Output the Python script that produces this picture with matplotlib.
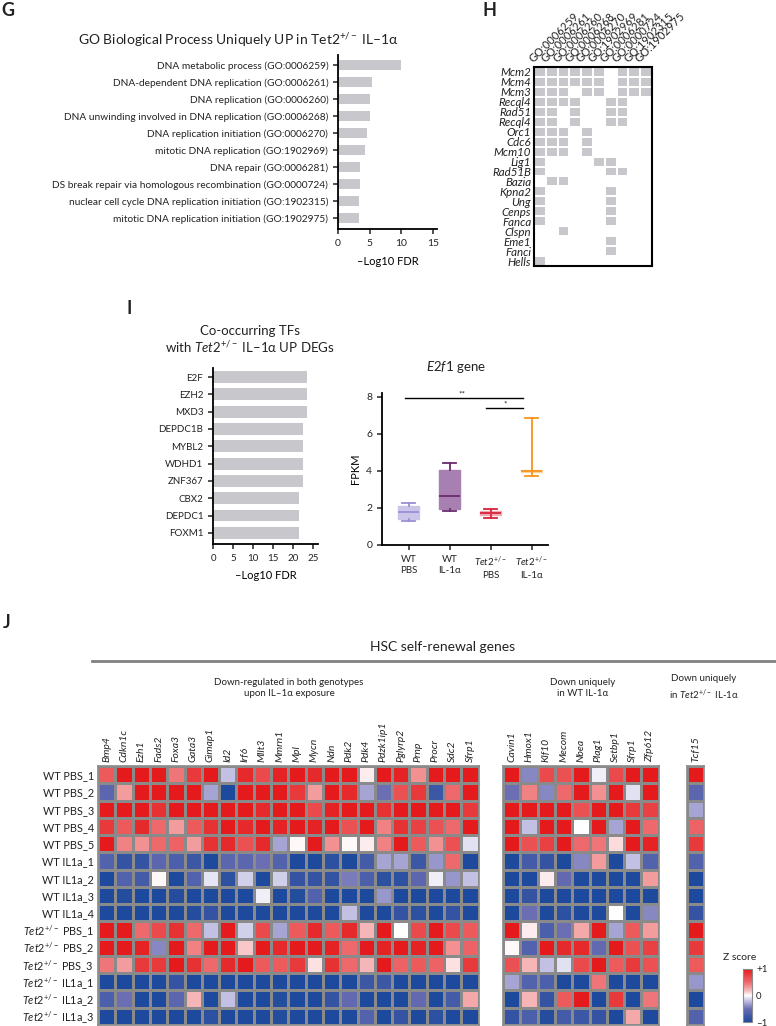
import numpy as np
import matplotlib.pyplot as plt
from matplotlib.colors import LinearSegmentedColormap, ListedColormap

plt.rcParams['font.family'] = ['Lato', 'DejaVu Sans']
plt.rcParams['mathtext.fontset'] = 'custom'
plt.rcParams['mathtext.rm'] = 'Lato'
plt.rcParams['mathtext.it'] = 'Lato:italic'
plt.rcParams['mathtext.bf'] = 'Lato:bold'
plt.rcParams['text.color'] = '#222222'
plt.rcParams['xtick.color'] = '#222222'
plt.rcParams['ytick.color'] = '#222222'

W, H = 776, 1026
BAR_GREY = '#c8c7cc'

# ---- panel G data
go_terms = ['DNA metabolic process (GO:0006259)',
            'DNA-dependent DNA replication (GO:0006261)',
            'DNA replication (GO:0006260)',
            'DNA unwinding involved in DNA replication (GO:0006268)',
            'DNA replication initiation (GO:0006270)',
            'mitotic DNA replication (GO:1902969)',
            'DNA repair (GO:0006281)',
            'DS break repair via homologous recombination (GO:0000724)',
            'nuclear cell cycle DNA replication initiation (GO:1902315)',
            'mitotic DNA replication initiation (GO:1902975)']
go_fdr = [10.0, 5.4, 5.1, 5.0, 4.6, 4.3, 3.5, 3.5, 3.3, 3.3]

# ---- panel H data
go_ids = ['GO:0006259', 'GO:0006261', 'GO:0006260', 'GO:0006268', 'GO:0006270',
          'GO:1902969', 'GO:0006281', 'GO:0000724', 'GO:1902315', 'GO:1902975']
h_genes = ['Mcm2', 'Mcm4', 'Mcm3', 'Recql4', 'Rad51', 'Recql4', 'Orc1', 'Cdc6',
           'Mcm10', 'Lig1', 'Rad51B', 'Bazia', 'Kpna2', 'Ung', 'Cenps', 'Fanca',
           'Clspn', 'Eme1', 'Fanci', 'Hells']
h_member = [[1, 1, 1, 1, 1, 1, 0, 1, 1, 1],
            [1, 1, 1, 1, 1, 1, 0, 1, 1, 1],
            [1, 1, 1, 0, 1, 1, 0, 1, 1, 1],
            [1, 1, 1, 1, 0, 0, 1, 1, 0, 0],
            [1, 1, 0, 1, 0, 0, 1, 1, 0, 0],
            [1, 1, 0, 1, 0, 0, 1, 1, 0, 0],
            [1, 1, 1, 0, 1, 0, 0, 0, 0, 0],
            [1, 1, 1, 0, 1, 0, 0, 0, 0, 0],
            [1, 1, 1, 0, 1, 0, 0, 0, 0, 0],
            [1, 0, 0, 0, 0, 1, 1, 0, 0, 0],
            [1, 0, 0, 0, 0, 0, 1, 1, 0, 0],
            [0, 1, 1, 0, 0, 0, 0, 0, 0, 0],
            [1, 0, 0, 0, 0, 0, 1, 0, 0, 0],
            [1, 0, 0, 0, 0, 0, 1, 0, 0, 0],
            [1, 0, 0, 0, 0, 0, 1, 0, 0, 0],
            [1, 0, 0, 0, 0, 0, 1, 0, 0, 0],
            [0, 0, 1, 0, 0, 0, 0, 0, 0, 0],
            [0, 0, 0, 0, 0, 0, 1, 0, 0, 0],
            [0, 0, 0, 0, 0, 0, 1, 0, 0, 0],
            [1, 0, 0, 0, 0, 0, 0, 0, 0, 0]]

# ---- panel I data
tf_names = ['E2F', 'EZH2', 'MXD3', 'DEPDC1B', 'MYBL2', 'WDHD1', 'ZNF367',
            'CBX2', 'DEPDC1', 'FOXM1']
tf_fdr = [23.6, 23.6, 23.6, 22.6, 22.6, 22.6, 22.6, 21.6, 21.6, 21.6]

e2f1_groups = ['WT\nPBS', 'WT\nIL-1α', '$\\mathit{Tet2}^{+/-}$\nPBS',
               '$\\mathit{Tet2}^{+/-}$\nIL-1α']
e2f1_whislo = [1.30, 1.81, 1.43, 3.73]
e2f1_q1 = [1.41, 1.96, 1.63, 3.95]
e2f1_med = [1.76, 2.65, 1.73, 3.98]
e2f1_q3 = [2.10, 4.05, 1.83, 4.04]
e2f1_whishi = [2.24, 4.43, 1.96, 6.86]
e2f1_fill = ['#cbc5ea', '#a77fb0', '#f3aab2', '#fcd39c']
e2f1_edge = ['#9a8fd6', '#6a2c70', '#d6243c', '#f7941d']

# ---- panel J data
hm_rows = ['WT PBS_1', 'WT PBS_2', 'WT PBS_3', 'WT PBS_4', 'WT PBS_5',
           'WT IL1a_1', 'WT IL1a_2', 'WT IL1a_3', 'WT IL1a_4',
           '$\\mathit{Tet2}^{+/-}$ PBS_1', '$\\mathit{Tet2}^{+/-}$ PBS_2',
           '$\\mathit{Tet2}^{+/-}$ PBS_3', '$\\mathit{Tet2}^{+/-}$ IL1a_1',
           '$\\mathit{Tet2}^{+/-}$ IL1a_2', '$\\mathit{Tet2}^{+/-}$ IL1a_3']
both_genes = ['Bmp4', 'Cdkn1c', 'Ezh1', 'Fads2', 'Foxa3', 'Gata3', 'Gimap1', 'Id2',
              'Irf6', 'Mllt3', 'Mmrn1', 'Mpl', 'Mycn', 'Ndn', 'Pdk2', 'Pdk4',
              'Pdzk1ip1', 'Pglyrp2', 'Prnp', 'Procr', 'Sdc2', 'Sfrp1']
both_z = [
    [0.6, 1, 1, 1, 0.45, 0.8, 1, -0.2, 0.9, 0.7, 0.95, 1, 0.9, 1, 1, 0.05, 1, 0.95, 0.35, 1, 1, 1],
    [-0.6, 0.3, 1, 1, 1, 1, -0.3, -1, 1, 1, 1, 0.8, 0.3, 1, 0.9, -0.3, -0.5, 0.65, 0.8, -0.8, 0.5, 1],
    [1, 1, 1, 0.85, 1, 1, 1, 1, 1, 0.9, 1, 1, 0.7, 0.95, 1, 1, 0.85, 1, 1, 1, 1, 0.8],
    [0.8, 0.6, 0.9, 0.5, 0.3, 0.6, 0.85, 1, 0.9, 1, 0.95, 1, 0.95, 1, 0.65, 1, 0.4, 0.85, 0.75, 0.65, 0.5, 1],
    [1, 0.4, 0.35, 0.5, 0.55, 0.3, 0.85, 0.9, 0.65, 0.9, -0.3, 0.02, 1, 0.35, 0.02, 0.05, 0.4, 1, 0.6, 0.35, 0.65, -0.1],
    [-0.65, -0.85, -0.85, -0.6, -0.7, -0.8, -1, -0.6, -0.6, -0.5, -0.65, -1, -1, -0.9, -1, -0.75, -0.3, -0.3, -0.8, -0.35, 0.5, -1],
    [-1, -0.65, -0.75, 0.02, -1, -0.65, -0.08, -0.9, -0.15, -1, -0.15, -0.85, -0.85, -0.85, -0.45, -0.7, -0.9, -0.9, -0.6, -0.05, -0.35, -0.2],
    [-1, -0.95, -1, -1, -0.95, -1, -1, -1, -1, -0.05, -1, -0.95, -0.65, -1, -1, -1, -0.35, -1, -1, -1, -1, -1],
    [-1, -1, -1, -1, -1, -0.95, -0.85, -1, -1, -1, -1, -1, -1, -1, -0.2, -1, -1, -0.85, -0.9, -1, -0.85, -1],
    [1, 1, 0.5, 0.7, 0.85, 0.5, -0.2, 1, -0.15, 0.7, -0.3, 0.6, 0.9, 0.6, 0.9, 0.2, 1, 0.0, 0.7, 1, 0.7, 0.6],
    [1, 1, 0.95, -0.4, 1, 0.4, 1, 1, 0.15, 1, 0.9, 1, 1, 0.95, 0.5, 1, 0.95, 1, 0.95, 1, 0.35, 0.55],
    [0.45, 0.3, 0.8, 0.8, 1, 0.85, 0.5, 0.9, 1, 0.6, 0.6, 0.8, 0.08, 0.85, 0.5, 0.2, 1, 0.55, 0.6, 0.55, 0.08, 0.8],
    [-1, -1, -1, -1, -0.85, -1, -1, -1, -1, -1, -1, -1, -1, -1, -1, -0.8, -0.8, -1, -1, -1, -1, -1],
    [-0.7, -0.5, -1, -1, -0.6, 0.2, -1, -0.2, -1, -1, -0.95, -1, -1, -0.85, -0.55, -1, -1, -1, -0.55, -1, -0.75, 0.25],
    [-1, -1, -1, -1, -1, -1, -0.9, -1, -1, -1, -0.95, -1, -1, -1, -1, -0.65, -1, -0.85, -1, -0.9, -1, -1]]
wt_genes = ['Cavin1', 'Hmox1', 'Klf10', 'Mecom', 'Nbea', 'Plag1', 'Setbp1', 'Sfrp1', 'Zfp612']
wt_z = [
    [1, -0.4, 0.7, 0.65, 1, -0.05, 0.7, 1, 1],
    [-0.5, 0.4, -0.4, 0.5, 1, 0.35, 1, -0.1, 1],
    [1, 1, 1, 1, 0.65, 1, 1, 0.8, 0.75],
    [1, -0.2, 1, 1, 0.0, 1, -0.3, 1, 0.5],
    [1, 0.65, 0.75, 1, 0.5, 0.45, 0.1, 1, 0.95],
    [-1, -0.75, -0.85, -1, -0.4, 0.3, -1, -0.2, -0.65],
    [-1, -1, 0.05, -0.55, -1, -1, -1, -1, 0.3],
    [-1, -0.85, -1, -1, -1, -1, -1, -1, -1],
    [-1, -0.5, -1, -0.9, -1, -1, 0.0, -1, -0.4],
    [1, 0.05, -0.7, -0.5, 0.25, 1, -0.3, 0.6, 0.3],
    [0.02, -0.65, 1, 0.9, 0.9, -0.55, 1, 0.65, 0.75],
    [0.65, 0.2, -0.2, -0.1, 0.7, 1, 0.6, 0.8, 0.65],
    [-0.3, -0.65, -0.7, -1, -1, 0.45, -1, -1, -1],
    [-1, 0.2, -0.85, 0.6, 1, -1, 0.8, -1, 0.45],
    [-0.85, -0.7, -0.95, -0.75, -0.8, -0.85, -1, 0.25, -1]]
tet2_genes = ['Tcf15']
tet2_z = [[1], [-0.6], [-0.3], [0.55], [0.8], [-0.65], [-1], [-1], [-0.85],
          [1], [0.8], [0.6], [-0.35], [-1], [-0.65]]

zcmap = LinearSegmentedColormap.from_list(
    'z', [(0, '#1d4a9c'), (0.25, '#6b6db3'), (0.4, '#c3c1e3'), (0.5, '#ffffff'),
          (0.6, '#f6b6b8'), (0.75, '#ee6a6c'), (1, '#e41a1c')])


def rect(x0, y0, x1, y1):
    return [x0 / W, 1 - y1 / H, (x1 - x0) / W, (y1 - y0) / H]


def ftext(x, y, s, **kw):
    fig.text(x / W, 1 - y / H, s, **kw)


def style_axes(ax):
    for side in ['top', 'right']:
        ax.spines[side].set_visible(False)
    for side in ['left', 'bottom']:
        ax.spines[side].set_linewidth(1.3)
    ax.tick_params(width=1.1, length=3.5)


fig = plt.figure(figsize=(W / 100, H / 100), dpi=100)

# panel letters
ftext(1, 11, 'G', fontsize=13, fontweight='bold', va='center')
ftext(483, 11, 'H', fontsize=13, fontweight='bold', va='center')
ftext(126, 308, 'I', fontsize=13, fontweight='bold', va='center')
ftext(3, 622, 'J', fontsize=13, fontweight='bold', va='center')

# ---- G: GO bar chart
ax = fig.add_axes(rect(338, 55, 437, 229))
ax.barh(range(len(go_terms)), go_fdr, height=0.62, color=BAR_GREY)
ax.set_yticks(range(len(go_terms)))
ax.set_yticklabels(go_terms, fontsize=7.3)
ax.set_ylim(9.65, -0.6)
ax.set_xlim(0, 15.6)
ax.set_xticks([0, 5, 10, 15])
ax.tick_params(axis='x', labelsize=7.5)
ax.set_xlabel('–Log10 FDR', fontsize=8, labelpad=6)
style_axes(ax)
ftext(239, 40, 'GO Biological Process Uniquely UP in Tet2$^{+/-}$ IL–1α',
      fontsize=10, ha='center', va='center')

# ---- H: gene membership grid
ax = fig.add_axes(rect(534, 67, 652, 266))
ax.pcolormesh(np.array(h_member), cmap=ListedColormap(['white', BAR_GREY]),
              edgecolors='white', linewidth=1.2)
ax.set_xlim(0, len(go_ids))
ax.set_ylim(len(h_genes), 0)
ax.set_yticks(np.arange(len(h_genes)) + 0.5)
ax.set_yticklabels(h_genes, fontsize=8.3, fontstyle='italic')
ax.set_xticks([])
ax.tick_params(axis='y', length=0, pad=2)
for s in ax.spines.values():
    s.set_linewidth(1.5)
for j, g in enumerate(go_ids):
    ax.text(j + 0.1, -0.3, g, rotation=45, rotation_mode='anchor',
            ha='left', va='bottom', fontsize=8)

# ---- I: co-occurring TFs
ax = fig.add_axes(rect(213, 368, 318, 544))
ax.barh(range(len(tf_names)), tf_fdr, height=0.68, color=BAR_GREY)
ax.set_yticks(range(len(tf_names)))
ax.set_yticklabels(tf_names, fontsize=7)
ax.set_ylim(9.64, -0.52)
ax.set_xlim(0, 26.3)
ax.set_xticks([0, 5, 10, 15, 20, 25])
ax.tick_params(axis='x', labelsize=7)
ax.set_xlabel('–Log10 FDR', fontsize=8, labelpad=5)
style_axes(ax)
ftext(250, 340, 'Co-occurring TFs\nwith $\\mathit{Tet2}^{+/-}$ IL–1α UP DEGs',
      fontsize=9.5, ha='center', va='center', linespacing=1.15)

# ---- I: E2f1 box plot
ax = fig.add_axes(rect(382, 393, 548, 545))
stats = []
for k in range(len(e2f1_groups)):
    stats.append(dict(whislo=e2f1_whislo[k], q1=e2f1_q1[k], med=e2f1_med[k],
                      q3=e2f1_q3[k], whishi=e2f1_whishi[k], fliers=[]))
for k, st in enumerate(stats):
    c = e2f1_edge[k]
    ax.bxp([st], positions=[k + 1], widths=0.5, capwidths=0.3,
           patch_artist=True, showfliers=False,
           boxprops=dict(facecolor=e2f1_fill[k], edgecolor=e2f1_fill[k], linewidth=1),
           medianprops=dict(color=c, linewidth=1.3),
           whiskerprops=dict(color=c, linewidth=1.3),
           capprops=dict(color=c, linewidth=1.3))
ax.set_xlim(0.35, 4.4)
ax.set_ylim(0, 8.2)
ax.set_yticks([0, 2, 4, 6, 8])
ax.set_xticks([1, 2, 3, 4])
ax.set_xticklabels(e2f1_groups, fontsize=7, linespacing=1.3)
ax.tick_params(axis='y', labelsize=7.5)
ax.set_ylabel('FPKM', fontsize=8, labelpad=4)
style_axes(ax)
ax.plot([0.9, 3.78], [7.95, 7.95], color='black', lw=1, clip_on=False)
ax.text(2.3, 7.98, '**', ha='center', va='bottom', fontsize=6)
ax.plot([2.88, 3.8], [7.37, 7.37], color='black', lw=1, clip_on=False)
ax.text(3.35, 7.4, '*', ha='center', va='bottom', fontsize=6)
ftext(456, 367, '$\\mathit{E2f1}$ gene', fontsize=9.5, ha='center', va='center')

# ---- J: HSC self-renewal heatmaps
ftext(443, 647, 'HSC self-renewal genes', fontsize=10, ha='center', va='center')
fig.add_artist(plt.Line2D([92 / W, 1], [1 - 661 / H, 1 - 661 / H],
                          color='#808080', lw=2))
ftext(289, 688, 'Down-regulated in both genotypes\nupon IL–1α exposure',
      fontsize=7, ha='center', va='center', linespacing=1.3)
ftext(583, 688, 'Down uniquely\nin WT IL-1α',
      fontsize=7, ha='center', va='center', linespacing=1.3)
ftext(704, 688, 'Down uniquely\nin $\\mathit{Tet2}^{+/-}$ IL-1α',
      fontsize=7, ha='center', va='center', linespacing=1.3)

blocks = [(both_genes, both_z, 98, 478.6), (wt_genes, wt_z, 503, 658.7),
          (tet2_genes, tet2_z, 687, 704.3)]
mesh = None
for bi, (genes, z, x0, x1) in enumerate(blocks):
    ax = fig.add_axes(rect(x0, 766, x1, 1025))
    mesh = ax.pcolormesh(np.array(z), cmap=zcmap, vmin=-1, vmax=1,
                         edgecolors='#8a8a8a', linewidth=1)
    ax.set_xlim(0, len(genes))
    ax.set_ylim(len(hm_rows), 0)
    ax.xaxis.tick_top()
    ax.set_xticks(np.arange(len(genes)) + 0.5)
    ax.set_xticklabels(genes, rotation=90, fontsize=7.5, fontstyle='italic')
    ax.tick_params(length=0, pad=3)
    if bi == 0:
        ax.set_yticks(np.arange(len(hm_rows)) + 0.5)
        ax.set_yticklabels(hm_rows, fontsize=7.8)
    else:
        ax.set_yticks([])
    for s in ax.spines.values():
        s.set_color('#8a8a8a')
        s.set_linewidth(1.2)

cax = fig.add_axes(rect(743, 969, 752, 1022))
cb = fig.colorbar(mesh, cax=cax, ticks=[-1, 0, 1])
cb.ax.set_yticklabels(['–1', '0', '+1'], fontsize=7)
cb.ax.tick_params(length=0, pad=3)
cb.outline.set_edgecolor('#8a8a8a')
ftext(740, 958, 'Z score', fontsize=7.5, ha='center', va='center')

fig.savefig('out.png', dpi=100)
